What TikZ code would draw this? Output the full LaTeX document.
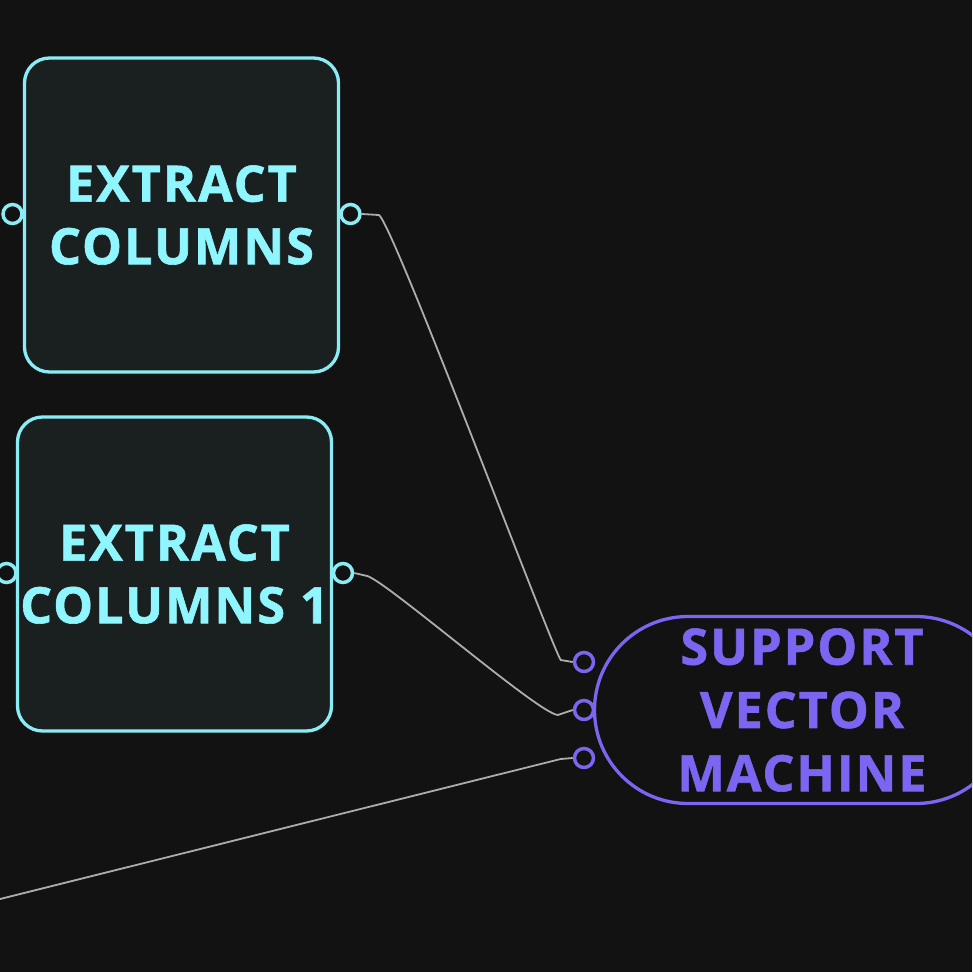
\documentclass[tikz,border=0pt]{standalone}
\usepackage{fontspec}
\newfontfamily\blkfont[LetterSpace=4,BoldFeatures={FakeBold=1.2}]{Open Sans}
\usetikzlibrary{positioning}
\definecolor{bg}{HTML}{121212}
\definecolor{blkfill}{HTML}{1A1F20}
\definecolor{cyanline}{HTML}{8AEDF5}
\definecolor{cyantext}{HTML}{8FF6FF}
\definecolor{violet}{HTML}{7A66F0}
\definecolor{wiregray}{HTML}{ADADAD}
\begin{document}
\begin{tikzpicture}[x=0.1mm,y=-0.1mm,
        blk/.style={rectangle,draw=cyanline,line width=0.33mm,fill=blkfill,rounded corners=2.5mm,
            minimum width=31.4mm,minimum height=31.4mm,inner xsep=0pt,align=center,text=cyantext,
            font=\blkfont\bfseries\fontsize{14.3}{17.8}\selectfont},
        oval/.style={rectangle,draw=violet,line width=0.33mm,fill=bg,rounded corners=9.35mm,
            minimum width=41.5mm,minimum height=18.7mm,align=center,text=violet,
            font=\blkfont\bfseries\fontsize{14.3}{18}\selectfont},
        port/.style={circle,draw=#1,line width=0.35mm,fill=bg,minimum size=1.9mm,inner sep=0pt},
        wire/.style={draw=wiregray,line width=0.18mm}]

        \clip (0,0) rectangle (972,972);
        \fill[bg] (0,0) rectangle (972,972);

        % blocks
        \node[blk] (ec) at (181.5,215) {EXTRACT\\COLUMNS};
        \node[blk] (ec1) at (174.5,574) {EXTRACT\\COLUMNS 1};
        \node[oval] (svm) at (802,710) {SUPPORT\\VECTOR\\MACHINE};

        % ports
        \node[port=cyanline] (ec-in) at (12.5,214) {};
        \node[port=cyanline] (ec-out) at (350.5,214) {};
        \node[port=cyanline] (ec1-in) at (6.5,573) {};
        \node[port=cyanline] (ec1-out) at (343,573) {};
        \node[port=violet] (svm-a) at (584,662) {};
        \node[port=violet] (svm-b) at (584,710) {};
        \node[port=violet] (svm-c) at (584,758) {};

        \coordinate (offside) at (0,899);

        % links
        \draw[wire] (ec-out.east) -- ++(17,1) .. controls +(12,3) and +(-10,-15) .. ([shift={(-12,-2)}]svm-a.west) -- (svm-a.west);
        \draw[wire] (ec1-out.east) -- ++(13,3) .. controls +(20,6) and +(-20,-2) .. ([shift={(-15,5)}]svm-b.west) -- (svm-b.west);
        \draw[wire] (offside) -- ([shift={(-12,1)}]svm-c.west) -- (svm-c.west);
\end{tikzpicture}
\end{document}
